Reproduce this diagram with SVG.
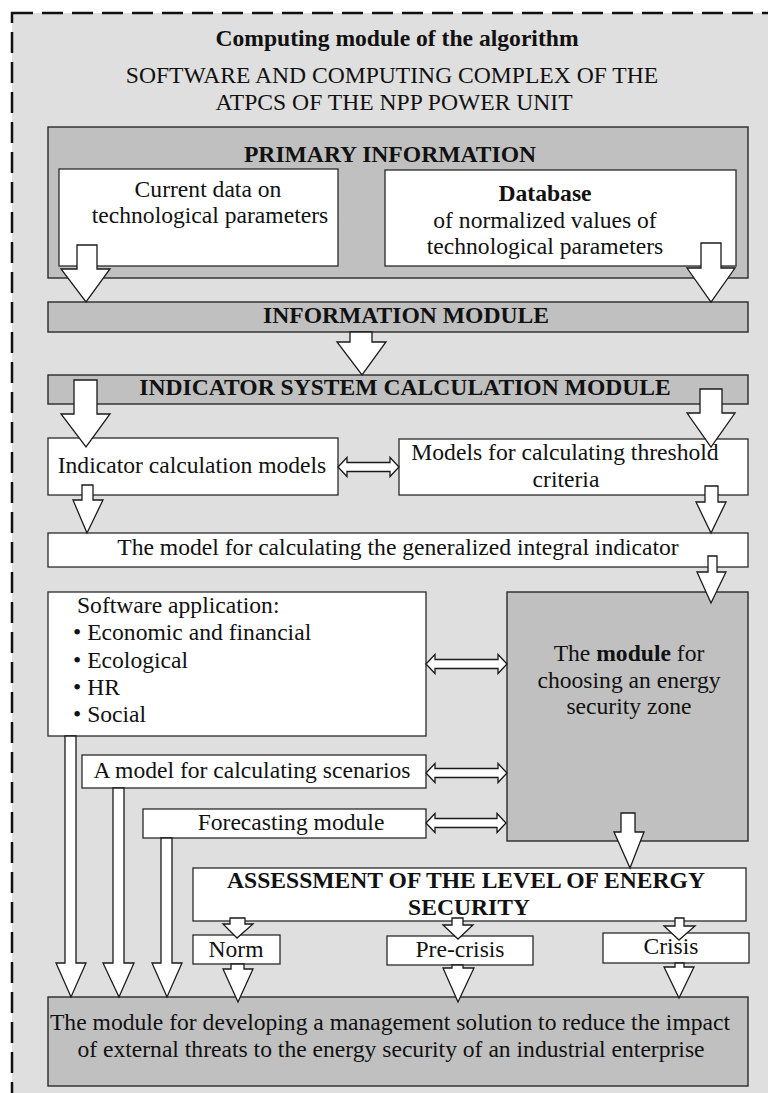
<svg xmlns="http://www.w3.org/2000/svg" width="768" height="1093" viewBox="0 0 768 1093">
<style>
text{font-family:"Liberation Serif","Times New Roman",serif;font-size:23.6px;fill:#111;}
.b{font-weight:bold;}
.m{text-anchor:middle;}
.g{fill:#c0c0c0;stroke:#2a2a2a;stroke-width:1.4;}
.w{fill:#ffffff;stroke:#2a2a2a;stroke-width:1.3;}
.ar{fill:#ffffff;stroke:#1a1a1a;stroke-width:1.3;stroke-linejoin:miter;}
</style>
<rect x="0" y="0" width="768" height="1093" fill="#ffffff"/>
<rect id="frame" x="12" y="13" width="780" height="1100" fill="#dfdfdf" stroke="#111" stroke-width="2.5" stroke-dasharray="21 9"/>
<g id="title">
<text class="b m" x="397" y="46">Computing module of the algorithm</text>
<text class="m" x="392" y="83">SOFTWARE AND COMPUTING COMPLEX OF THE</text>
<text class="m" x="394" y="110">ATPCS OF THE NPP POWER UNIT</text>
</g>
<g id="primary">
<rect class="g" x="48" y="127" width="700" height="151"/>
<text class="b m" x="390" y="162">PRIMARY INFORMATION</text>
</g>
<g id="current">
<rect class="w" x="59" y="169" width="279" height="97"/>
<text class="m" x="208" y="197">Current data on</text>
<text class="m" x="210" y="223">technological parameters</text>
</g>
<g id="database">
<rect class="w" x="385" y="170" width="351" height="96"/>
<text class="b m" x="545" y="201">Database</text>
<text class="m" x="545" y="228">of normalized values of</text>
<text class="m" x="545" y="254">technological parameters</text>
</g>
<g id="infomodule">
<rect class="g" x="48" y="302" width="700" height="30"/>
<text class="b m" x="406" y="323">INFORMATION MODULE</text>
</g>
<g id="indicatorsystem">
<rect class="g" x="48" y="375" width="700" height="29"/>
<text class="b m" x="405" y="395">INDICATOR SYSTEM CALCULATION MODULE</text>
</g>
<g id="indicatormodels">
<rect class="w" x="48" y="438" width="290" height="57"/>
<text class="m" x="192" y="473">Indicator calculation models</text>
</g>
<g id="thresholdmodels">
<rect class="w" x="399" y="439" width="349" height="56"/>
<text class="m" x="565" y="460">Models for calculating threshold</text>
<text class="m" x="566" y="487">criteria</text>
</g>
<g id="integral">
<rect class="w" x="48" y="533" width="700" height="34"/>
<text class="m" x="398" y="555">The model for calculating the generalized integral indicator</text>
</g>
<g id="software">
<rect class="w" x="48" y="592" width="378" height="144"/>
<text x="77" y="613">Software application:</text>
<text x="73" y="640">• Economic and financial</text>
<text x="73" y="668">• Ecological</text>
<text x="73" y="695">• HR</text>
<text x="73" y="722">• Social</text>
</g>
<g id="zone">
<rect class="g" x="507" y="592" width="241" height="249"/>
<text class="m" x="629" y="661">The <tspan class="b">module</tspan> for</text>
<text class="m" x="629" y="688">choosing an energy</text>
<text class="m" x="629" y="714">security zone</text>
</g>
<g id="scenarios">
<rect class="w" x="82" y="755" width="344" height="33"/>
<text class="m" x="252" y="778">A model for calculating scenarios</text>
</g>
<g id="forecasting">
<rect class="w" x="143" y="809" width="283" height="29"/>
<text class="m" x="291" y="830">Forecasting module</text>
</g>
<g id="assessment">
<rect class="w" x="193" y="868" width="553" height="53"/>
<text class="b m" x="466" y="888">ASSESSMENT OF THE LEVEL OF ENERGY</text>
<text class="b m" x="469" y="915">SECURITY</text>
</g>
<g id="norm">
<rect class="w" x="193" y="935" width="87" height="29"/>
<text class="m" x="236" y="957">Norm</text>
</g>
<g id="precrisis">
<rect class="w" x="387" y="936" width="146" height="29"/>
<text class="m" x="460" y="957">Pre-crisis</text>
</g>
<g id="crisis">
<rect class="w" x="603" y="933" width="146" height="30"/>
<text class="m" x="671" y="954">Crisis</text>
</g>
<g id="management">
<rect class="g" x="48" y="997" width="700" height="89"/>
<text class="m" x="390" y="1030">The module for developing a management solution to reduce the impact</text>
<text class="m" x="391" y="1057">of external threats to the energy security of an industrial enterprise</text>
</g>
<g id="connectors">
<path class="ar" d="M77 245H97V269H110L86 302L61 269H77Z"/>
<path class="ar" d="M701 243H721V268H735L711 302L687 268H701Z"/>
<path class="ar" d="M350 332H372V342H386L362 375L337 342H350Z"/>
<path class="ar" d="M74 380H97V414H110L86 447L61 414H74Z"/>
<path class="ar" d="M700 389H722V413H735L711 447L687 413H700Z"/>
<path class="ar" d="M82 485H93V500H103L87 533L73 500H82Z"/>
<path class="ar" d="M705 486H718V502H726L711 533L696 502H705Z"/>
<path class="ar" d="M708 556H717V572H726L711 603L697 572H708Z"/>
<path class="ar" d="M621 813H635V832H644L630 868L614 832H621Z"/>
<path class="ar" d="M65 736H76V963H86L71 997L56 963H65Z"/>
<path class="ar" d="M113 788H124V963H134L119 997L103 963H113Z"/>
<path class="ar" d="M161 838H172V963H182L167 997L152 963H161Z"/>
<path class="ar" d="M230 918H245V924H253L237 938L223 924H230Z"/>
<path class="ar" d="M231 964H244V969H253L238 1002L223 969H231Z"/>
<path class="ar" d="M452 918H463V925H473L458 939L443 925H452Z"/>
<path class="ar" d="M452 965H463V968H474L458 1002L443 968H452Z"/>
<path class="ar" d="M675 918H684V926H695L679 940L664 926H675Z"/>
<path class="ar" d="M675 963H684V967H694L679 998L664 967H675Z"/>
<path class="ar" d="M338 467L347 457.5V462.5H390V457.5L399 467L390 476.5V471.5H347V476.5Z"/>
<path class="ar" d="M426 664L435 654.5V659.5H498V654.5L507 664L498 673.5V668.5H435V673.5Z"/>
<path class="ar" d="M426 773L435 763.5V768.5H498V763.5L507 773L498 782.5V777.5H435V782.5Z"/>
<path class="ar" d="M426 823L435 813.5V818.5H497V813.5L506 823L497 832.5V827.5H435V832.5Z"/>
</g>
</svg>
